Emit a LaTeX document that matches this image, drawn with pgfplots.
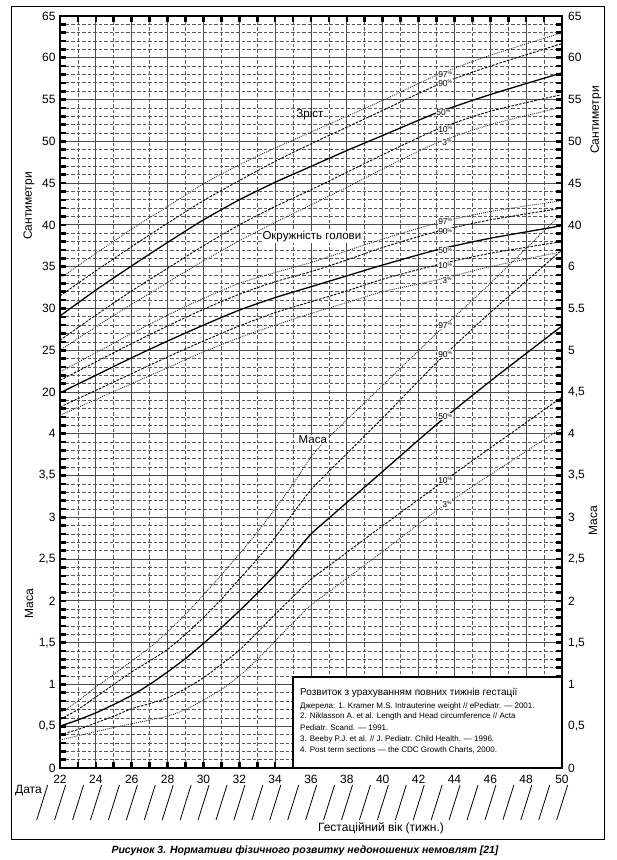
\documentclass[border=0pt]{standalone}
\usepackage{fontspec}
\setmainfont{Liberation Sans}
\usepackage{pgfplots}
\usepackage{pgfplotstable}
\pgfplotsset{compat=1.18}

% Length (cm)
\pgfplotstableread{
w p3 p10 p50 p90 p97
22 25.0 26.2 29.1 31.5 33.6
24 27.8 29.2 32.2 34.5 36.6
26 30.5 32.1 35.1 37.4 39.5
28 33.1 34.8 37.9 40.2 42.2
30 35.7 37.5 40.6 42.9 44.9
32 38.1 40.0 43.0 45.3 47.2
34 40.3 42.2 45.1 47.6 49.2
36 42.4 44.2 47.0 49.7 51.1
38 44.5 46.3 48.9 51.7 53.0
40 46.7 48.4 50.7 53.7 54.9
43 49.8 51.4 53.4 56.7 57.9
46 52.0 53.6 55.6 59.0 60.3
50 54.1 55.6 58.2 61.7 63.0
}\lengthtab

% Head circumference (cm)
\pgfplotstableread{
w p3 p10 p50 p90 p97
22 17.2 18.2 19.9 21.4 22.4
24 19.1 20.2 22.0 23.6 24.7
26 21.0 22.2 24.1 25.8 27.0
28 22.9 24.2 26.1 27.9 29.2
30 24.8 26.1 28.0 29.9 31.2
32 26.5 27.9 29.8 31.7 33.0
34 28.0 29.5 31.3 33.2 34.3
36 29.4 30.8 32.6 34.4 35.5
38 30.7 32.1 33.9 35.8 36.9
40 32.0 33.5 35.2 37.3 38.3
43 33.4 35.2 37.0 39.2 40.2
46 35.0 36.6 38.4 40.6 41.6
50 36.8 38.0 39.9 42.0 42.9
}\headtab

% Weight (kg)
\pgfplotstableread{
w p3 p10 p50 p90 p97
22 0.335 0.40 0.50 0.58 0.66
23 0.385 0.46 0.575 0.70 0.80
24 0.435 0.54 0.66 0.85 0.97
25 0.485 0.62 0.76 1.00 1.12
26 0.53 0.71 0.87 1.15 1.28
27 0.575 0.77 1.00 1.28 1.44
28 0.62 0.84 1.15 1.42 1.63
29 0.70 0.95 1.31 1.60 1.84
30 0.81 1.08 1.49 1.80 2.07
31 0.94 1.24 1.68 2.02 2.31
32 1.10 1.41 1.88 2.26 2.56
33 1.30 1.62 2.09 2.50 2.82
34 1.52 1.84 2.31 2.76 3.10
35 1.74 2.05 2.55 3.05 3.40
36 1.95 2.26 2.80 3.33 3.72
37 2.11 2.42 2.99 3.55 3.96
40 2.59 2.90 3.55 4.19 4.58
43 3.08 3.37 4.11 4.85 5.20
46 3.51 3.83 4.63 5.45 5.80
50 4.07 4.44 5.29 6.20 6.64
}\masstab

\pgfplotsset{
  pdot/.style={black!85, line width=0.9pt, dash pattern=on 0.9pt off 1.1pt, smooth, tension=0.4},
  pdash/.style={black, line width=0.9pt, dash pattern=on 2.6pt off 1.3pt, smooth, tension=0.4},
  psolid/.style={black, line width=1.3pt, smooth, tension=0.4},
}

\newcommand{\pc}[1]{#1\textsuperscript{\fontsize{5}{5}\selectfont\%}}

\begin{document}
\begin{tikzpicture}[x=1pt,y=1pt]
\path (0,0) rectangle (617,860);
\draw[line width=0.8pt] (11,21) rectangle (604,854);

\begin{axis}[
  at={(60pt,92pt)}, anchor=south west,
  scale only axis, width=502pt, height=752pt,
  xmin=22, xmax=50, ymin=0, ymax=90,
  clip=false,
  xtick={22,24,...,50},
  xticklabels={22,24,26,28,30,32,34,36,38,40,42,44,46,48,50},
  minor x tick num=1,
  ytick={0,5,...,90},
  yticklabels={0,{0,5},1,{1,5},2,{2,5},3,{3,5},4,20,25,30,35,40,45,50,55,60,65},
  minor y tick num=4,
  grid=both,
  major grid style={line width=0.8pt, black!70},
  minor grid style={line width=0.7pt, black!65, dash pattern=on 3.5pt off 2pt},
  tick align=inside,
  major tick length=6pt, minor tick length=6pt,
  every tick/.style={black, line width=2.6pt},
  axis line style={line width=2.6pt},
  tick label style={font=\fontsize{12}{14}\selectfont},
  xticklabel style={yshift=-3.5pt},
  yticklabel style={xshift=-1pt},
]
% Length
\addplot[pdot] table[x=w, y expr=\thisrow{p97}+25] {\lengthtab};
\addplot[pdash] table[x=w, y expr=\thisrow{p90}+25] {\lengthtab};
\addplot[psolid] table[x=w, y expr=\thisrow{p50}+25] {\lengthtab};
\addplot[pdash] table[x=w, y expr=\thisrow{p10}+25] {\lengthtab};
\addplot[pdot] table[x=w, y expr=\thisrow{p3}+25] {\lengthtab};
% Head
\addplot[pdot] table[x=w, y expr=\thisrow{p97}+25] {\headtab};
\addplot[pdash] table[x=w, y expr=\thisrow{p90}+25] {\headtab};
\addplot[psolid] table[x=w, y expr=\thisrow{p50}+25] {\headtab};
\addplot[pdash] table[x=w, y expr=\thisrow{p10}+25] {\headtab};
\addplot[pdot] table[x=w, y expr=\thisrow{p3}+25] {\headtab};
% Mass
\addplot[pdot] table[x=w, y expr=\thisrow{p97}*10] {\masstab};
\addplot[pdash] table[x=w, y expr=\thisrow{p90}*10] {\masstab};
\addplot[psolid] table[x=w, y expr=\thisrow{p50}*10] {\masstab};
\addplot[pdash] table[x=w, y expr=\thisrow{p10}*10] {\masstab};
\addplot[pdot] table[x=w, y expr=\thisrow{p3}*10] {\masstab};

\begin{scope}[every node/.style={font=\fontsize{8.5}{9}\selectfont, fill=white, inner sep=0.4pt}]
\node at (axis cs:43.5,83.05) {\pc{97}};
\node at (axis cs:43.5,81.98) {\pc{90}};
\node at (axis cs:43.4,78.5) {\pc{50}};
\node at (axis cs:43.5,76.47) {\pc{10}};
\node at (axis cs:43.6,74.9) {\pc{3}};
\node at (axis cs:43.5,65.38) {\pc{97}};
\node at (axis cs:43.5,64.18) {\pc{90}};
\node at (axis cs:43.5,61.9) {\pc{50}};
\node at (axis cs:43.5,60.1) {\pc{10}};
\node at (axis cs:43.6,58.4) {\pc{3}};
\node at (axis cs:43.5,53.0) {\pc{97}};
\node at (axis cs:43.5,49.55) {\pc{90}};
\node at (axis cs:43.5,42.04) {\pc{50}};
\node at (axis cs:43.5,34.47) {\pc{10}};
\node at (axis cs:43.6,31.6) {\pc{3}};
\end{scope}
\begin{scope}[every node/.style={font=\fontsize{11.5}{13}\selectfont, inner sep=1pt}]
\node at (axis cs:35.94,78.2) {Зріст};
\node[fill=white] at (axis cs:36.05,63.55) {Окружність голови};
\node[fill=white] at (axis cs:36.1,39.25) {Маса};
\end{scope}
\end{axis}

% right tick labels
\foreach \u/\t in {0/0,5/{0,5},10/1,15/{1,5},20/2,25/{2,5},30/3,35/{3,5},40/4,45/{4,5},50/5,55/5.5,60/6,65/40,70/45,75/50,80/55,85/60,90/65}
  \node[anchor=west, font=\fontsize{12}{14}\selectfont, inner sep=0pt] at (568, {92+\u*8.3556}) {\t};

% axis titles
\node[rotate=90, font=\fontsize{12}{14}\selectfont] at (29,654) {Сантиметри};
\node[rotate=90, font=\fontsize{12}{14}\selectfont] at (29,256) {Маса};
\node[rotate=90, font=\fontsize{12}{14}\selectfont] at (596,740) {Сантиметри};
\node[rotate=90, font=\fontsize{12}{14}\selectfont] at (593,339) {Маса};

% text box
\draw[line width=2.6pt, fill=white] (293,92) rectangle (562,183);
\node[anchor=west, font=\fontsize{10}{12}\selectfont, inner sep=0pt] at (300,167) {Розвиток з урахуванням повних тижнів гестації};
\begin{scope}[every node/.style={anchor=west, font=\fontsize{8}{9}\selectfont, inner sep=0pt}]
\node at (300,154) {Джерела: 1. Kramer M.S. Intrauterine weight // ePediatr. — 2001.};
\node at (300,143.3) {2. Niklasson A. et al. Length and Head circumference // Acta};
\node at (300,132) {Pediatr. Scand. — 1991.};
\node at (300,121) {3. Beeby P.J. et al. // J. Pediatr. Child Health. — 1996.};
\node at (300,110) {4. Post term sections — the CDC Growth Charts, 2000.};
\end{scope}

% date slashes
\foreach \k in {0,...,29}
  \draw[line width=0.8pt] ({36.7+17.93*\k},40) -- ({47.7+17.93*\k},75);
\node[font=\fontsize{12}{14}\selectfont, anchor=west, inner sep=0pt] at (15,69) {Дата};
\node[font=\fontsize{12}{14}\selectfont] at (381,32) {Гестаційний вік (тижн.)};
\node[font=\fontsize{10.5}{12}\selectfont\bfseries\itshape] at (305,9) {Рисунок 3. Нормативи фізичного розвитку недоношених немовлят [21]};
\end{tikzpicture}
\end{document}
